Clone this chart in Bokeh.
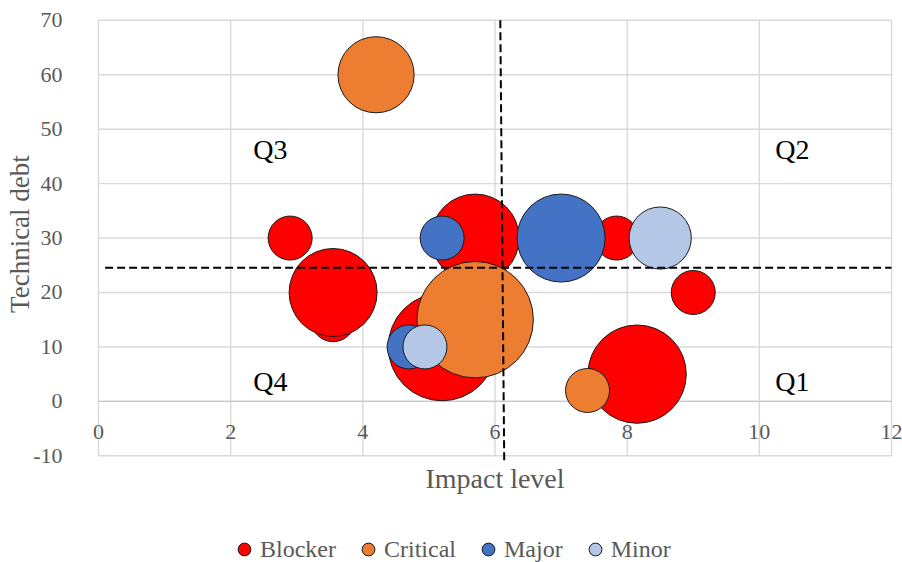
import numpy as np
from bokeh.plotting import figure
from bokeh.models import ColumnDataSource, Legend, LegendItem, Range1d
from bokeh.core.properties import value
from bokeh.embed import file_html
from bokeh.resources import INLINE

# ---- data -------------------------------------------------------------
series_names = ["Blocker", "Critical", "Major", "Minor"]
series_colors = ["#FF0000", "#ED7D31", "#4472C4", "#B4C7E7"]

blocker_impact = [2.9, 3.55, 3.55, 5.7, 5.2, 7.84, 9.0, 8.15]
blocker_debt = [30, 15, 20, 30, 10, 30, 20, 5]
blocker_size = [1, 1, 4, 4, 6, 1, 1, 5]

critical_impact = [4.2, 5.7, 7.4]
critical_debt = [60, 15, 2]
critical_size = [3, 7, 1]

major_impact = [5.2, 7.0, 4.7]
major_debt = [30, 30, 10]
major_size = [1, 4, 1]

minor_impact = [8.5, 4.94]
minor_debt = [30, 10]
minor_size = [2, 1]

x_ticks = [0, 2, 4, 6, 8, 10, 12]
x_tick_labels = ["0", "2", "4", "6", "8", "10", "12"]
y_ticks = [-10, 0, 10, 20, 30, 40, 50, 60, 70]
y_tick_labels = ["-10", "0", "10", "20", "30", "40", "50", "60", "70"]

x_title = "Impact level"
y_title = "Technical debt"

# quadrant divider lines
impact_split_x = [6.08, 6.14]
impact_split_y = [70, -11.5]
debt_split_x = [0.1, 12]
debt_split_y = [24.55, 24.55]

quad_labels = ["Q3", "Q2", "Q4", "Q1"]
quad_x = [2.6, 10.5, 2.6, 10.5]
quad_y = [46.2, 46.2, 3.6, 3.6]

SERIF = "Liberation Serif"
GRAY = "#595959"
GRID = "#D9D9D9"
BASE_DIAMETER = 44  # screen diameter of a bubble of size 1

# ---- figure -----------------------------------------------------------
# The frame covers the whole canvas; the chart area is 0..12 x -10..70
# and the axis texts are placed around it in screen offsets.
W, H = 902, 562
left_px, right_px = 98.0, 891.0
top_px, bottom_px = 19.8, 455.3
xs_per_px = (x_ticks[-1] - x_ticks[0]) / (right_px - left_px)
ys_per_px = (y_ticks[-1] - y_ticks[0]) / (bottom_px - top_px)
x_lo = x_ticks[0] - left_px * xs_per_px
x_hi = x_ticks[-1] + (W - right_px) * xs_per_px
y_hi = y_ticks[-1] + top_px * ys_per_px
y_lo = y_ticks[0] - (H - bottom_px) * ys_per_px

p = figure(width=W, height=H, output_backend="svg", toolbar_location=None,
           x_range=Range1d(x_lo, x_hi), y_range=Range1d(y_lo, y_hi),
           x_axis_location=None, y_axis_location=None,
           min_border=0)
p.outline_line_color = None
p.grid.visible = False
p.background_fill_color = "white"
p.border_fill_color = "white"

# grid lines
p.segment(x0=x_ticks, y0=y_ticks[0], x1=x_ticks, y1=y_ticks[-1],
          line_color=GRID, line_width=1.4)
p.segment(x0=x_ticks[0], y0=y_ticks, x1=x_ticks[-1], y1=y_ticks,
          line_color=GRID, line_width=1.4)
# horizontal axis line at debt = 0
p.segment(x0=[x_ticks[0]], y0=[0], x1=[x_ticks[-1]], y1=[0],
          line_color="#C8C8C8", line_width=1.4)

# tick labels
p.text(x=x_ticks, y=0, text=x_tick_labels, y_offset=31,
       text_font=value(SERIF), text_font_size="22px", text_color=GRAY,
       text_align="center", text_baseline="middle")
p.text(x=x_ticks[0], y=y_ticks, text=y_tick_labels, x_offset=-36,
       text_font=value(SERIF), text_font_size="22px", text_color=GRAY,
       text_align="right", text_baseline="middle")

# axis titles
p.text(x=[(x_ticks[0] + x_ticks[-1]) / 2], y=[y_ticks[0]], text=[x_title],
       y_offset=23, text_font=value(SERIF), text_font_size="28px",
       text_color=GRAY, text_align="center", text_baseline="middle")
p.text(x=[x_ticks[0]], y=[(y_ticks[0] + y_ticks[-1]) / 2], text=[y_title],
       x_offset=-79, y_offset=-4, angle=np.pi / 2, text_font=value(SERIF),
       text_font_size="27px", text_color=GRAY, text_align="center",
       text_baseline="middle")

# ---- bubbles ----------------------------------------------------------
series = [
    (blocker_impact, blocker_debt, blocker_size),
    (critical_impact, critical_debt, critical_size),
    (major_impact, major_debt, major_size),
    (minor_impact, minor_debt, minor_size),
]
items = []
for name, color, (xs, ys, ss) in zip(series_names, series_colors, series):
    src = ColumnDataSource(dict(x=xs, y=ys, s=ss,
                                d=[BASE_DIAMETER * np.sqrt(v) for v in ss]))
    r = p.scatter("x", "y", size="d", source=src, marker="circle",
                  fill_color=color, line_color="#1a1a1a", line_width=1)
    items.append(LegendItem(label=name, renderers=[r]))

# ---- quadrant dividers ------------------------------------------------
p.line(impact_split_x, impact_split_y, line_color="black", line_width=2,
       line_dash="8 4")
p.line(debt_split_x, debt_split_y, line_color="black", line_width=2,
       line_dash="8 4")

p.text(x=quad_x, y=quad_y, text=quad_labels, text_font=value(SERIF),
       text_font_size="28px", text_color="black", text_align="center",
       text_baseline="middle")

# ---- legend -----------------------------------------------------------
legend = Legend(items=items, orientation="horizontal", location=(228, -6),
                glyph_width=32, glyph_height=38, label_standoff=0, spacing=16,
                padding=0, margin=0, border_line_color=None,
                background_fill_alpha=0,
                label_text_font=SERIF, label_text_font_size="24px",
                label_text_color=GRAY)
p.add_layout(legend, "center")

open("out.html", "w").write(file_html(p, INLINE))
